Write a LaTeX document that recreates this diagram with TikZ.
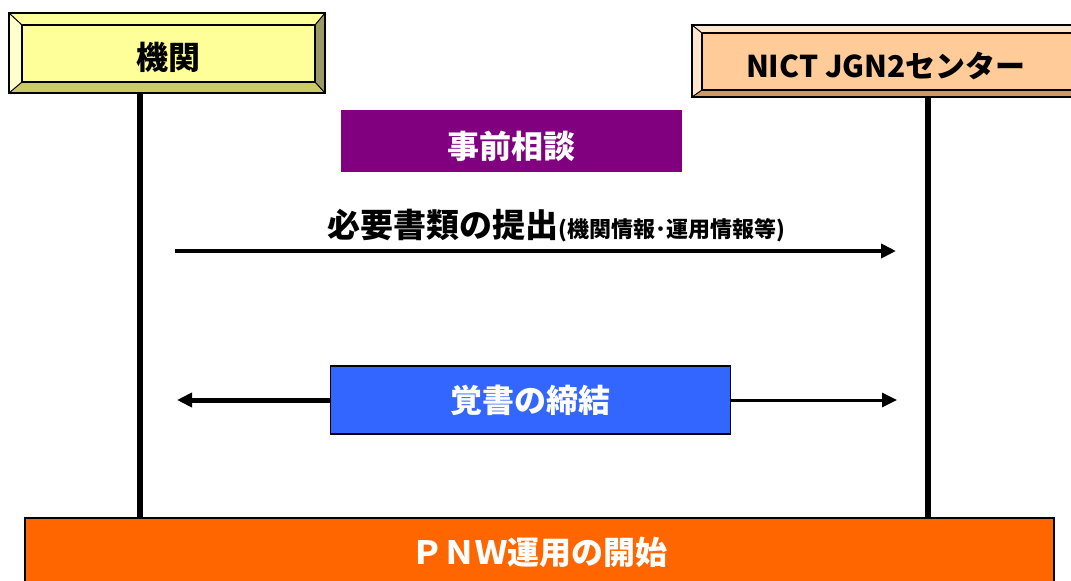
\documentclass[tikz,border=0pt]{standalone}
\usepackage{fontspec}
\setmainfont{Noto Sans CJK JP}
\usetikzlibrary{arrows.meta}

\definecolor{kikanyellow}{HTML}{FFFF99}
\definecolor{kikanlight}{HTML}{FFFFCC}
\definecolor{kikandark}{HTML}{CCCC66}
\definecolor{kikandarker}{HTML}{999966}
\definecolor{nictorange}{HTML}{FFCC99}
\definecolor{nictlight}{HTML}{FFE6CC}
\definecolor{nictdark}{HTML}{CC9966}
\definecolor{soudanpurple}{HTML}{800080}
\definecolor{oboeblue}{HTML}{3366FF}
\definecolor{pnworange}{HTML}{FF6600}

\tikzset{
    bigtext/.style={font={\fontsize{32}{38}\selectfont\bfseries}},
    lifeline/.style={line width=6pt},
    msg/.style={line width=4.5pt, -{Triangle[length=15pt,width=14pt]}},
    edgeline/.style={line width=2.5pt, line join=miter},
}

\begin{document}
\begin{tikzpicture}[x=1pt,y=-1pt]
    \clip (0,0) rectangle (1071,581);
    \fill[white] (0,0) rectangle (1071,581);

    % lifelines
    \coordinate (kikantop) at (140,93);
    \coordinate (nicttop) at (928,97);

    % 機関 (bevelled box)
    \fill[kikanyellow] (9,13) -- (325,13) -- (315,25) -- (22,25) -- cycle;
    \fill[kikanlight] (9,13) -- (22,25) -- (22,82) -- (9,93) -- cycle;
    \fill[kikandark] (9,93) -- (325,93) -- (315,82) -- (22,82) -- cycle;
    \fill[kikandarker] (325,13) -- (325,93) -- (315,82) -- (315,25) -- cycle;
    \draw[line width=1pt] (9,13) -- (22,25) (325,13) -- (315,25)
        (9,93) -- (22,82) (325,93) -- (315,82);
    \node[fill=kikanyellow, draw, line width=2.5pt,
        minimum width=293pt, minimum height=57pt,
        label={[bigtext, yshift=-4pt]center:機関}] (kikan) at (168.5,53.5) {};
    \draw[edgeline] (9,13) rectangle (325,93);

    % NICT JGN2 センター (bevelled box)
    \fill[nictlight] (692,25) -- (1080,25) -- (1072,33) -- (702,33) -- cycle;
    \fill[nictlight] (692,25) -- (702,33) -- (702,90) -- (692,97) -- cycle;
    \fill[nictdark] (692,97) -- (1080,97) -- (1072,90) -- (702,90) -- cycle;
    \draw[line width=1pt] (692,25) -- (702,33) (692,97) -- (702,90);
    \node[fill=nictorange, draw, line width=2.5pt,
        minimum width=370pt, minimum height=57pt,
        label={[bigtext, font={\fontsize{30}{36}\selectfont\bfseries}, xshift=-1pt, yshift=-4pt]center:NICT JGN2センター}]
        (nict) at (887,61.5) {};
    \draw[edgeline] (692,25) rectangle (1080,97);

    % 事前相談
    \node[fill=soudanpurple, minimum width=341pt, minimum height=62pt,
        label={[bigtext, text=white, yshift=-5pt]center:事前相談}] (soudan) at (511.5,141) {};

    % 必要書類の提出
    \node[bigtext, font={\fontsize{33}{38}\selectfont\bfseries}] (teishutsu) at (556,226)
        {必要書類の提出{\fontsize{22}{26}\selectfont (機関情報･運用情報等)}};
    \coordinate (teishutsuL) at (175,251);
    \coordinate (teishutsuR) at (896,251);
    \draw[msg] (teishutsuL) -- (teishutsuR);

    % 覚書の締結
    \node[bigtext, fill=oboeblue, text=white, draw, line width=1.5pt,
        minimum width=400pt, minimum height=68pt] (oboe) at (530.5,400) {覚書の締結};
    \coordinate (oboeL) at (177,400);
    \coordinate (oboeR) at (897,400);
    \draw[msg, line width=5pt] (oboe.west) -- (oboeL);
    \draw[msg, line width=3pt] (oboe.east) -- (oboeR);

    % PNW運用の開始
    \node[bigtext, fill=pnworange, text=white, draw, line width=1.5pt, anchor=north,
        minimum width=1029pt, minimum height=70pt] (pnw) at (539.5,517) {ＰＮＷ運用の開始};

    \draw[lifeline] (kikantop) -- (kikantop |- pnw.north);
    \draw[lifeline] (nicttop) -- (nicttop |- pnw.north);
\end{tikzpicture}
\end{document}
